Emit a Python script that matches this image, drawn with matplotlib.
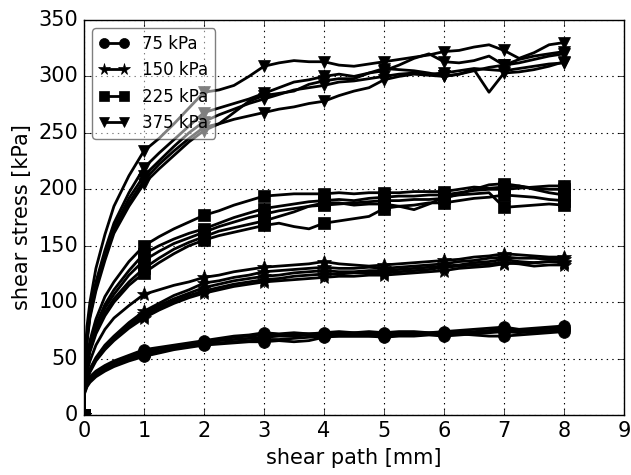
import matplotlib
matplotlib.use("Agg")
import matplotlib.pyplot as plt

# Shear path sampling [mm]
path_mm = [0, 0.01, 0.05, 0.1, 0.2, 0.35, 0.5, 0.75, 1.0, 1.25, 1.5, 1.75, 2.0,
           2.25, 2.5, 2.75, 3.0, 3.25, 3.5, 3.75, 4.0, 4.25, 4.5, 4.75, 5.0,
           5.25, 5.5, 5.75, 6.0, 6.25, 6.5, 6.75, 7.0, 7.25, 7.5, 7.75, 8.0]

# Shear stress [kPa] of the repeated tests at each normal stress
tests_75 = [
    [0, 24, 30, 34, 39, 44, 48, 53, 58, 60, 62, 64, 66, 68, 70, 71, 73, 72, 73, 72, 73, 74, 73, 74, 73, 74, 74, 73, 74, 75, 76, 77, 78, 76, 77, 78, 79],
    [0, 22, 29, 33, 38, 43, 47, 52, 56, 59, 61, 63, 65, 67, 69, 70, 71, 71, 72, 72, 72, 72, 73, 72, 72, 72, 73, 73, 73, 74, 74, 75, 76, 75, 76, 77, 77],
    [0, 21, 27, 31, 36, 41, 45, 50, 55, 57, 60, 62, 64, 66, 67, 68, 69, 70, 70, 71, 71, 71, 71, 72, 71, 71, 72, 72, 72, 73, 73, 74, 75, 74, 75, 75, 76],
    [0, 20, 26, 30, 35, 40, 44, 49, 53, 56, 59, 61, 63, 64, 65, 66, 67, 67, 68, 69, 70, 70, 70, 70, 69, 70, 70, 71, 70, 71, 72, 73, 74, 73, 74, 74, 75],
    [0, 19, 25, 29, 34, 39, 43, 48, 52, 55, 58, 60, 62, 63, 64, 65, 65, 66, 65, 66, 69, 70, 70, 70, 70, 71, 71, 72, 72, 72, 71, 70, 70, 71, 72, 73, 74],
]
tests_150 = [
    [0, 28, 38, 48, 62, 76, 86, 97, 107, 111, 115, 118, 122, 124, 127, 129, 131, 132, 133, 134, 136, 134, 133, 132, 133, 134, 135, 136, 137, 138, 140, 141, 143, 142, 141, 140, 140],
    [0, 25, 34, 41, 51, 62, 70, 82, 92, 99, 106, 111, 117, 119, 122, 124, 127, 128, 129, 130, 131, 130, 130, 131, 130, 131, 132, 133, 134, 136, 137, 139, 140, 139, 139, 138, 138],
    [0, 24, 33, 40, 50, 60, 68, 80, 90, 97, 103, 108, 113, 116, 119, 121, 123, 124, 126, 127, 128, 127, 127, 128, 128, 129, 130, 131, 132, 133, 135, 136, 138, 136, 135, 136, 135],
    [0, 23, 32, 39, 49, 59, 67, 78, 88, 95, 101, 106, 110, 113, 116, 118, 120, 121, 123, 124, 125, 125, 126, 126, 126, 127, 128, 129, 131, 132, 133, 134, 135, 134, 132, 133, 133],
    [0, 22, 31, 38, 48, 58, 66, 77, 86, 93, 99, 104, 108, 111, 114, 116, 118, 119, 120, 121, 122, 123, 123, 124, 124, 125, 126, 127, 128, 130, 131, 132, 134, 135, 135, 136, 136],
]
tests_225 = [
    [0, 32, 50, 66, 85, 105, 118, 136, 150, 158, 165, 171, 177, 181, 186, 190, 194, 195, 196, 196, 196, 197, 196, 197, 197, 197, 198, 198, 198, 200, 202, 201, 202, 203, 201, 200, 200],
    [0, 30, 47, 62, 80, 98, 111, 128, 143, 150, 156, 161, 165, 170, 175, 179, 183, 185, 187, 189, 190, 191, 190, 192, 193, 194, 194, 195, 195, 197, 199, 200, 200, 201, 202, 203, 203],
    [0, 29, 46, 60, 77, 95, 107, 124, 137, 145, 152, 157, 162, 167, 171, 175, 178, 181, 183, 185, 186, 187, 188, 189, 190, 190, 191, 191, 192, 196, 200, 204, 205, 203, 200, 197, 195],
    [0, 28, 44, 58, 74, 91, 103, 118, 130, 139, 147, 153, 158, 163, 166, 169, 172, 176, 180, 185, 188, 188, 186, 187, 187, 185, 182, 187, 193, 195, 196, 197, 184, 185, 186, 187, 186],
    [0, 27, 43, 56, 72, 88, 100, 115, 126, 135, 143, 150, 155, 159, 162, 165, 168, 170, 167, 165, 170, 172, 174, 176, 183, 185, 186, 188, 188, 190, 192, 193, 195, 194, 193, 191, 190],
]
tests_375 = [
    [0, 45, 78, 100, 130, 160, 185, 212, 234, 245, 258, 272, 286, 288, 292, 300, 309, 312, 314, 313, 313, 310, 309, 311, 313, 315, 317, 319, 322, 323, 326, 328, 323, 316, 321, 328, 330],
    [0, 40, 70, 92, 118, 146, 170, 197, 219, 232, 244, 256, 268, 272, 276, 280, 285, 290, 295, 297, 300, 302, 300, 303, 305, 310, 316, 320, 313, 312, 314, 318, 310, 312, 315, 318, 320],
    [0, 38, 68, 90, 115, 142, 166, 192, 212, 225, 238, 250, 260, 266, 271, 276, 280, 284, 288, 290, 292, 295, 296, 298, 300, 302, 303, 302, 303, 305, 307, 306, 305, 307, 309, 311, 312],
    [0, 37, 66, 88, 113, 140, 164, 188, 208, 222, 234, 245, 255, 258, 262, 265, 268, 271, 273, 276, 278, 283, 287, 290, 297, 300, 302, 301, 300, 302, 306, 286, 303, 304, 306, 309, 313],
    [0, 36, 64, 86, 110, 137, 161, 185, 205, 218, 230, 242, 252, 258, 268, 278, 283, 285, 287, 293, 296, 298, 298, 303, 307, 306, 305, 303, 300, 302, 305, 308, 310, 315, 318, 320, 322],
]

labels = ["75 kPa", "150 kPa", "225 kPa", "375 kPa"]
groups = [tests_75, tests_150, tests_225, tests_375]
markers = ["o", "*", "s", "v"]
xticks = list(range(0, 10))
yticks = list(range(0, 351, 50))

plt.style.use("classic")
plt.rcParams["font.family"] = "DejaVu Sans"

fig = plt.figure(figsize=(6.31, 4.75), dpi=100, facecolor="white")
ax = fig.add_axes([0.133, 0.126, 0.856, 0.832])

# markers only at whole millimetres
mark_idx = [i for i, x in enumerate(path_mm) if float(x).is_integer()]

for label, tests, mk in zip(labels, groups, markers):
    ms = 10 if mk == "*" else 8.5
    for k, y in enumerate(tests):
        ax.plot(path_mm, y, color="black", lw=2, marker=mk, markersize=ms,
                markevery=mark_idx, markeredgecolor="black",
                markerfacecolor="black", label=label if k == 0 else None)

ax.set_xlim(0, 9)
ax.set_ylim(0, 350)
ax.set_xticks(xticks)
ax.set_yticks(yticks)
ax.grid(True, color="black", linestyle=":", linewidth=0.8)
ax.tick_params(labelsize=15)
ax.set_xlabel("shear path [mm]", fontsize=15)
ax.set_ylabel("shear stress [kPa]", fontsize=15)

leg = ax.legend(loc="upper left", numpoints=2, fontsize=12, fancybox=True,
                framealpha=0.5, handlelength=1.8, borderaxespad=0.5,
                markerscale=0.85)

fig.savefig("out.png", dpi=100, facecolor="white")
